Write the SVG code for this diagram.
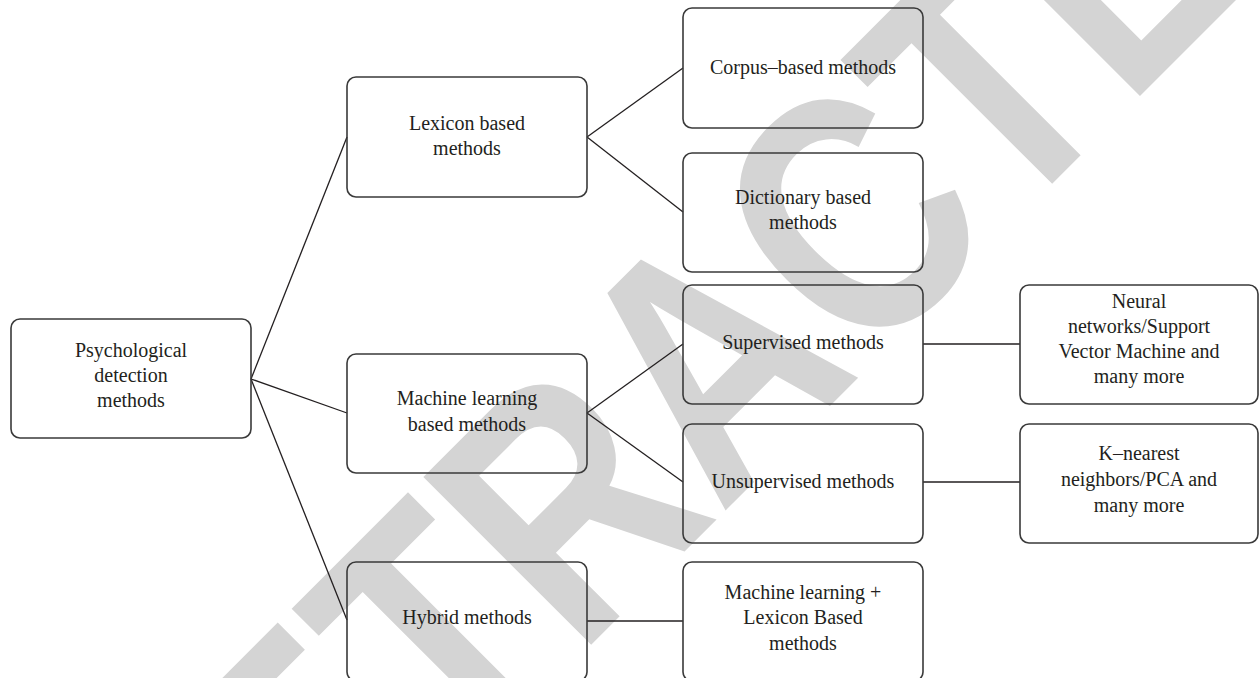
<svg xmlns="http://www.w3.org/2000/svg" width="1260" height="678" viewBox="0 0 1260 678">
<style>
.box{fill:none;stroke:#3a3a3a;stroke-width:1.6}
.conn line{stroke:#231f20;stroke-width:1.3}
.lbl{font-family:"Liberation Serif",serif;font-size:20px;fill:#231f20;text-anchor:middle}
.wm{font-family:"Liberation Sans",Arial,sans-serif;font-weight:bold;font-size:345px;fill:#d4d4d4;text-anchor:middle}
</style>
<rect width="1260" height="678" fill="#ffffff"/>
<text class="wm" transform="translate(792,444) rotate(-45) scale(0.81,1)">RETRACTED</text>
<g class="conn">
<line x1="251" y1="379" x2="347" y2="137"/>
<line x1="251" y1="379" x2="347" y2="413"/>
<line x1="251" y1="379" x2="347" y2="620"/>
<line x1="587" y1="137" x2="683" y2="68"/>
<line x1="587" y1="137" x2="683" y2="212"/>
<line x1="587" y1="413" x2="683" y2="344"/>
<line x1="587" y1="413" x2="683" y2="482"/>
<line x1="923" y1="344" x2="1020" y2="344"/>
<line x1="923" y1="482" x2="1020" y2="482"/>
<line x1="587" y1="621" x2="683" y2="621"/>
</g>
<g id="root"><rect class="box" x="11" y="319" width="240" height="119" rx="9"/><text class="lbl" x="131" y="357">Psychological</text><text class="lbl" x="131" y="382">detection</text><text class="lbl" x="131" y="407">methods</text></g>
<g id="lexicon"><rect class="box" x="347" y="77" width="240" height="120" rx="9"/><text class="lbl" x="467" y="130">Lexicon based</text><text class="lbl" x="467" y="155">methods</text></g>
<g id="ml"><rect class="box" x="347" y="354" width="240" height="119" rx="9"/><text class="lbl" x="467" y="405">Machine learning</text><text class="lbl" x="467" y="431">based methods</text></g>
<g id="hybrid"><rect class="box" x="347" y="562" width="240" height="119" rx="9"/><text class="lbl" x="467" y="624">Hybrid methods</text></g>
<g id="corpus"><rect class="box" x="683" y="8" width="240" height="120" rx="9"/><text class="lbl" x="803" y="74">Corpus–based methods</text></g>
<g id="dictionary"><rect class="box" x="683" y="153" width="240" height="119" rx="9"/><text class="lbl" x="803" y="204">Dictionary based</text><text class="lbl" x="803" y="229">methods</text></g>
<g id="supervised"><rect class="box" x="683" y="285" width="240" height="119" rx="9"/><text class="lbl" x="803" y="349">Supervised methods</text></g>
<g id="unsupervised"><rect class="box" x="683" y="424" width="240" height="119" rx="9"/><text class="lbl" x="803" y="488">Unsupervised methods</text></g>
<g id="mlplus"><rect class="box" x="683" y="562" width="240" height="119" rx="9"/><text class="lbl" x="803" y="599">Machine learning +</text><text class="lbl" x="803" y="624">Lexicon Based</text><text class="lbl" x="803" y="650">methods</text></g>
<g id="neural"><rect class="box" x="1020" y="285" width="238" height="119" rx="9"/><text class="lbl" x="1139" y="308">Neural</text><text class="lbl" x="1139" y="333">networks/Support</text><text class="lbl" x="1139" y="358">Vector Machine and</text><text class="lbl" x="1139" y="383">many more</text></g>
<g id="knn"><rect class="box" x="1020" y="424" width="238" height="119" rx="9"/><text class="lbl" x="1139" y="460">K–nearest</text><text class="lbl" x="1139" y="486">neighbors/PCA and</text><text class="lbl" x="1139" y="512">many more</text></g>
</svg>
